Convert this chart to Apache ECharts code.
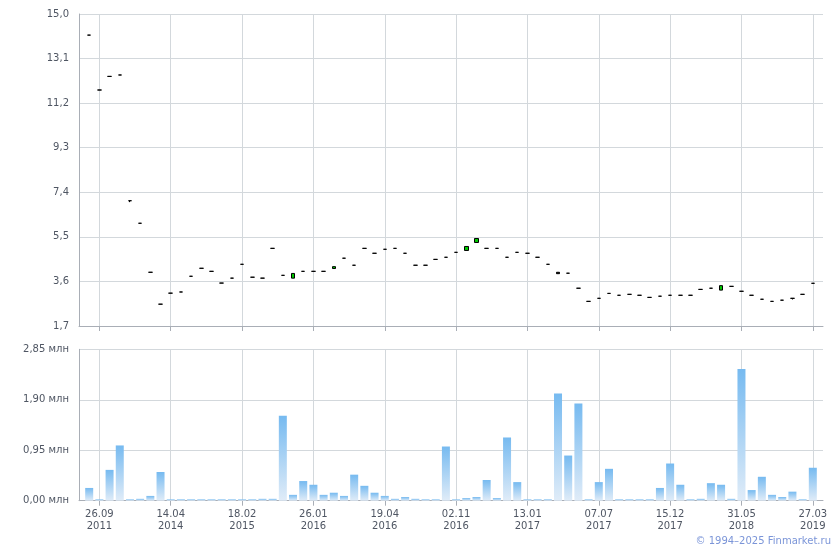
<!DOCTYPE html>
<html>
<head>
<meta charset="utf-8">
<script src="https://cdn.jsdelivr.net/npm/echarts@6/dist/echarts.min.js"></script>
<style>
html,body{margin:0;padding:0;background:#fff;}
#chart{width:840px;height:550px;}
</style>
</head>
<body>
<div id="chart"></div>
<script>
// Categories (first and last slots are empty padding)
const categories = [
  '', '',
  '26.09\n2011', '', '', '', '', '', '',
  '14.04\n2014', '', '', '', '', '', '',
  '18.02\n2015', '', '', '', '', '', '',
  '26.01\n2016', '', '', '', '', '', '',
  '19.04\n2016', '', '', '', '', '', '',
  '02.11\n2016', '', '', '', '', '', '',
  '13.01\n2017', '', '', '', '', '', '',
  '07.07\n2017', '', '', '', '', '', '',
  '15.12\n2017', '', '', '', '', '', '',
  '31.05\n2018', '', '', '', '', '', '',
  '27.03\n2019', ''
];

const openPrice = [
  14.10, 11.76, 12.34, 12.40, 7.04, 6.08, 3.99, 2.63, 3.10, 3.15,
  3.82, 4.16, 4.03, 3.53, 3.74, 4.33, 3.78, 3.74, 5.01, 3.86,
  3.74, 4.03, 4.03, 4.03, 4.15, 4.59, 4.29, 5.01, 4.80, 4.97,
  5.01, 4.80, 4.29, 4.29, 4.54, 4.63, 4.84, 4.92, 5.26, 5.01,
  5.01, 4.63, 4.84, 4.80, 4.63, 4.33, 3.99, 3.95, 3.31, 2.75,
  2.88, 3.09, 3.01, 3.05, 3.01, 2.92, 2.97, 3.01, 3.01, 3.01,
  3.26, 3.31, 3.23, 3.39, 3.18, 3.01, 2.84, 2.75, 2.80, 2.88,
  3.05, 3.52
];
const closePrice = [
  14.10, 11.76, 12.34, 12.40, 7.04, 6.08, 3.99, 2.63, 3.10, 3.15,
  3.82, 4.16, 4.03, 3.53, 3.74, 4.33, 3.78, 3.74, 5.01, 3.86,
  3.94, 4.03, 4.03, 4.03, 4.23, 4.59, 4.29, 5.01, 4.80, 4.97,
  5.01, 4.80, 4.29, 4.29, 4.54, 4.63, 4.84, 5.09, 5.43, 5.01,
  5.01, 4.63, 4.84, 4.80, 4.63, 4.33, 3.93, 3.95, 3.31, 2.75,
  2.88, 3.09, 3.01, 3.05, 3.01, 2.92, 2.97, 3.01, 3.01, 3.01,
  3.26, 3.31, 3.42, 3.39, 3.18, 3.01, 2.84, 2.75, 2.80, 2.88,
  3.05, 3.52
];
const lowPrice = [
  14.10, 11.76, 12.34, 12.40, 6.98, 6.08, 3.99, 2.63, 3.10, 3.15,
  3.82, 4.16, 4.03, 3.53, 3.74, 4.33, 3.78, 3.74, 5.01, 3.86,
  3.74, 4.03, 4.03, 4.03, 4.15, 4.59, 4.29, 5.01, 4.80, 4.97,
  5.01, 4.80, 4.29, 4.29, 4.54, 4.63, 4.84, 4.92, 5.26, 5.01,
  5.01, 4.63, 4.84, 4.80, 4.63, 4.33, 3.93, 3.95, 3.31, 2.75,
  2.88, 3.09, 3.01, 3.05, 3.01, 2.92, 2.97, 3.01, 3.01, 3.01,
  3.26, 3.31, 3.23, 3.39, 3.18, 3.01, 2.84, 2.75, 2.80, 2.83,
  3.05, 3.52
];
const highPrice = [
  14.10, 11.76, 12.34, 12.40, 7.04, 6.08, 3.99, 2.63, 3.10, 3.15,
  3.82, 4.16, 4.03, 3.53, 3.74, 4.33, 3.78, 3.74, 5.01, 3.86,
  3.94, 4.03, 4.03, 4.03, 4.23, 4.59, 4.29, 5.01, 4.80, 4.97,
  5.01, 4.80, 4.29, 4.29, 4.54, 4.63, 4.84, 5.09, 5.43, 5.01,
  5.01, 4.63, 4.84, 4.80, 4.63, 4.33, 3.99, 3.95, 3.31, 2.75,
  2.88, 3.09, 3.01, 3.05, 3.01, 2.92, 2.97, 3.01, 3.01, 3.01,
  3.26, 3.31, 3.42, 3.39, 3.18, 3.01, 2.84, 2.75, 2.80, 2.88,
  3.05, 3.52
];
// Volume, millions
const volumeMln = [
  0.24, 0.025, 0.58, 1.04, 0.025, 0.035, 0.09, 0.54, 0.025, 0.025,
  0.025, 0.025, 0.025, 0.025, 0.025, 0.025, 0.025, 0.035, 0.035, 1.60,
  0.11, 0.37, 0.30, 0.11, 0.15, 0.09, 0.49, 0.28, 0.15, 0.09,
  0.035, 0.07, 0.035, 0.025, 0.025, 1.02, 0.025, 0.05, 0.07, 0.39,
  0.05, 1.19, 0.35, 0.025, 0.025, 0.025, 2.02, 0.85, 1.83, 0.025,
  0.35, 0.60, 0.025, 0.025, 0.025, 0.025, 0.24, 0.70, 0.30, 0.025,
  0.035, 0.33, 0.30, 0.035, 2.48, 0.20, 0.45, 0.11, 0.07, 0.17,
  0.025, 0.62
];

const FONT = 'DejaVu Sans, Verdana, sans-serif';
const axisColor = '#a9aeb6';
const gridColor = '#d3d8dc';
const labelColor = '#4f5663';

const candleData = ['-'].concat(openPrice.map((o, i) => [o, closePrice[i], lowPrice[i], highPrice[i]])).concat(['-']);
const volData = ['-'].concat(volumeMln).concat(['-']);

const showTick = (idx, val) => val !== '';

const chart = echarts.init(document.getElementById('chart'), null, {renderer: 'canvas'});
chart.setOption({
  animation: false,
  backgroundColor: '#fff',
  grid: [
    {left: 79, right: 17, top: 14, height: 312},
    {left: 79, right: 17, top: 349.3, height: 151.4}
  ],
  xAxis: [
    {
      type: 'category', gridIndex: 0, data: categories, boundaryGap: false,
      axisLine: {lineStyle: {color: axisColor}},
      axisTick: {show: true, interval: showTick, length: 5, lineStyle: {color: axisColor}},
      axisLabel: {show: false},
      splitLine: {show: true, interval: showTick, lineStyle: {color: gridColor}}
    },
    {
      type: 'category', gridIndex: 1, data: categories, boundaryGap: false,
      axisLine: {lineStyle: {color: axisColor}},
      axisTick: {show: true, interval: showTick, length: 5, lineStyle: {color: axisColor}},
      axisLabel: {interval: showTick, color: labelColor, fontFamily: FONT, fontSize: 10, lineHeight: 12, margin: 8},
      splitLine: {show: true, interval: showTick, lineStyle: {color: gridColor}}
    }
  ],
  yAxis: [
    {
      type: 'value', gridIndex: 0, min: 1.7, max: 15, interval: 1.9,
      axisLine: {show: true, lineStyle: {color: axisColor}},
      axisTick: {show: false},
      axisLabel: {color: labelColor, fontFamily: FONT, fontSize: 10, margin: 10,
        formatter: v => v.toFixed(1).replace('.', ',')},
      splitLine: {lineStyle: {color: gridColor}}
    },
    {
      type: 'value', gridIndex: 1, min: 0, max: 2.85, interval: 0.95,
      axisLine: {show: true, lineStyle: {color: axisColor}},
      axisTick: {show: false},
      axisLabel: {color: labelColor, fontFamily: FONT, fontSize: 10, margin: 10,
        formatter: v => v.toFixed(2).replace('.', ',') + ' млн'},
      splitLine: {lineStyle: {color: gridColor}}
    }
  ],
  series: [
    {
      type: 'candlestick', xAxisIndex: 0, yAxisIndex: 0, data: candleData,
      barWidth: 4,
      itemStyle: {color: '#00c800', color0: '#000', borderColor: '#000', borderColor0: '#000', borderColorDoji: '#000', borderWidth: 1}
    },
    {
      type: 'bar', xAxisIndex: 1, yAxisIndex: 1, data: volData,
      barWidth: 8,
      itemStyle: {
        color: new echarts.graphic.LinearGradient(0, 0, 0, 1, [
          {offset: 0, color: '#76baf0'},
          {offset: 1, color: '#e0ecf8'}
        ], false)
      }
    }
  ],
  graphic: [
    {type: 'text', right: 9, top: 536,
     style: {text: '© 1994–2025 Finmarket.ru', fill: '#7b95d8', font: '10px ' + FONT}}
  ]
});
</script>
</body>
</html>
